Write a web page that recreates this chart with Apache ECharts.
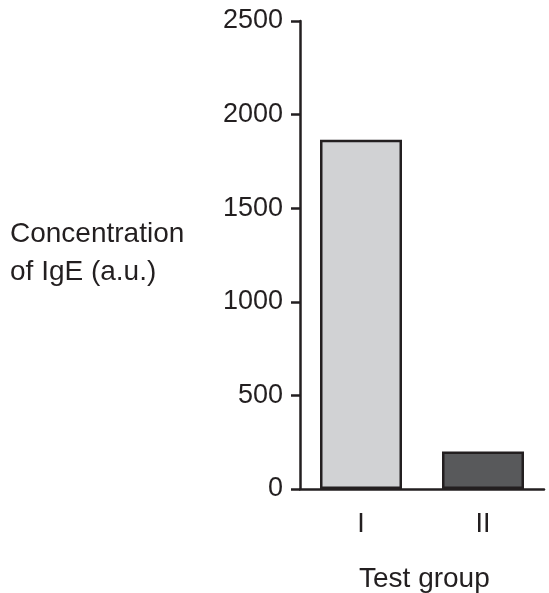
<!DOCTYPE html>
<html><head><meta charset="utf-8">
<script src="https://cdn.jsdelivr.net/npm/echarts@6/dist/echarts.min.js"></script>
<style>html,body{margin:0;padding:0;background:#fff}#c{width:549px;height:593px}</style>
</head><body><div id="c"></div>
<script>
var categories = ['I', 'II'];
var values = [1865, 200];
var barColors = ['#d1d2d4', '#58595b'];
var yTicks = [0, 500, 1000, 1500, 2000, 2500];

var chart = echarts.init(document.getElementById('c'));
var font = '"Liberation Sans", Arial, sans-serif';
chart.setOption({
  animation: false,
  grid: {left: 300, right: 5, top: 21, bottom: 104},
  xAxis: {
    type: 'category', data: categories,
    axisLine: {lineStyle: {color: '#231f20', width: 2.5}},
    axisTick: {show: false},
    axisLabel: {color: '#231f20', fontSize: 27, fontFamily: font, margin: 22}
  },
  yAxis: {
    type: 'value', min: yTicks[0], max: yTicks[yTicks.length - 1], interval: 500,
    splitLine: {show: false},
    axisLine: {show: true, lineStyle: {color: '#231f20', width: 2.5}},
    axisTick: {show: true, length: 9, lineStyle: {color: '#231f20', width: 2.5}},
    axisLabel: {color: '#231f20', fontSize: 27, fontFamily: font, margin: 17,
      formatter: function (v) { return String(v); }}
  },
  graphic: [
    {type: 'text', left: 10, top: 220, style: {text: 'Concentration', fontSize: 28, fontFamily: font, fill: '#231f20'}},
    {type: 'text', left: 10, top: 258, style: {text: 'of IgE (a.u.)', fontSize: 28, fontFamily: font, fill: '#231f20'}},
    {type: 'text', left: 359, top: 565, style: {text: 'Test group', fontSize: 28, fontFamily: font, fill: '#231f20'}}
  ],
  series: [{
    type: 'bar', barWidth: 82,
    data: values.map(function (v, i) {
      return {value: v, itemStyle: {color: barColors[i], borderColor: '#231f20', borderWidth: 2.5}};
    })
  }]
});
</script></body></html>
